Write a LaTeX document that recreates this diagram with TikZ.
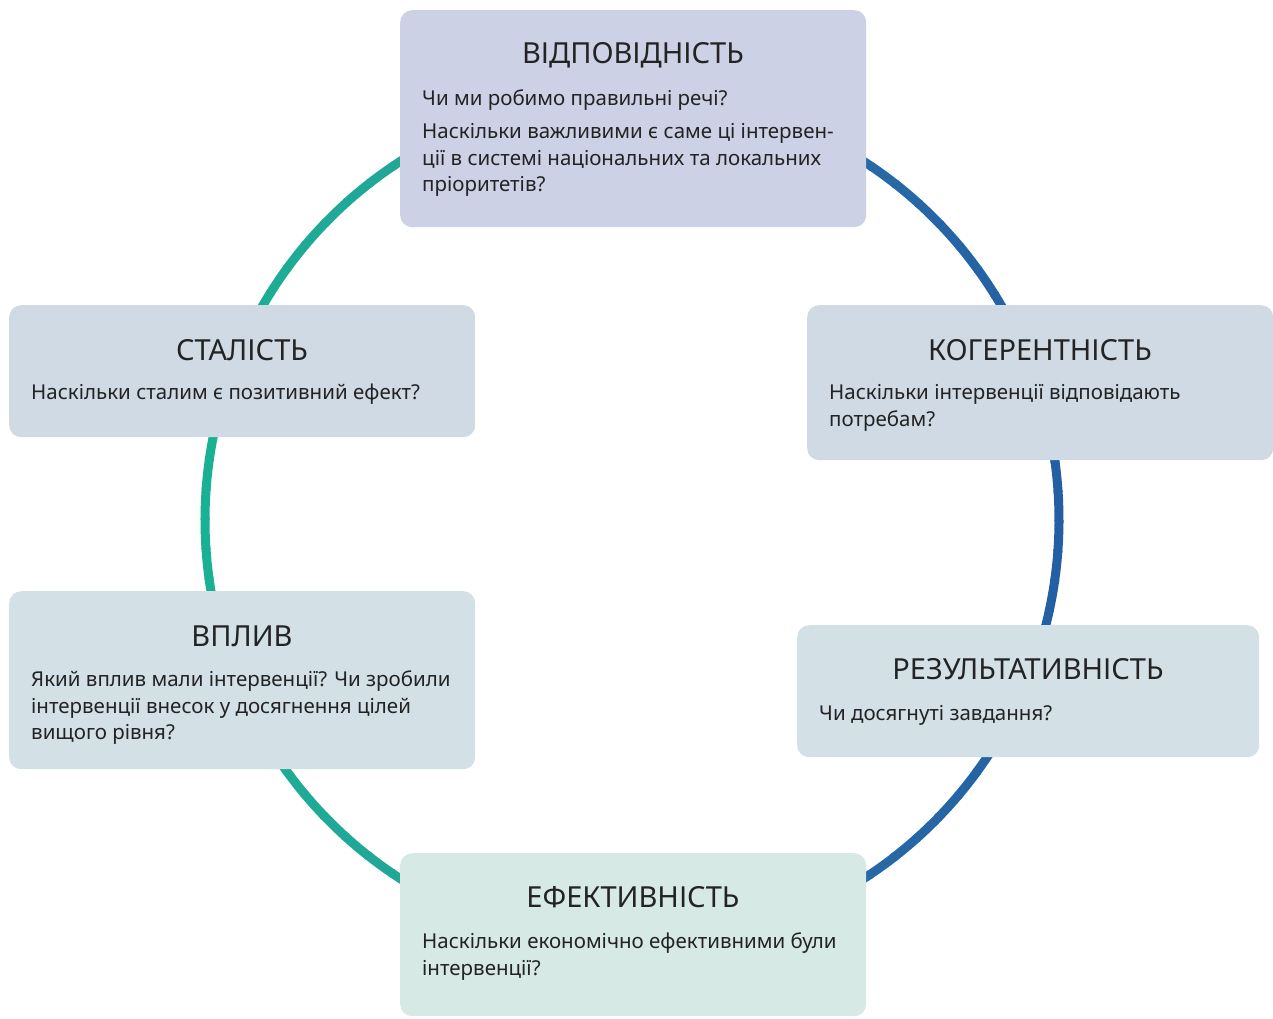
\documentclass[tikz,border=0pt]{standalone}
\usepackage{fontspec}
\setmainfont{Noto Sans}
\usetikzlibrary{calc}
\definecolor{txt}{HTML}{232323}
\definecolor{cTop}{HTML}{CDD1E6}
\definecolor{cMidA}{HTML}{D0DAE5}
\definecolor{cMidB}{HTML}{D3E1E7}
\definecolor{cBot}{HTML}{D6E9E5}
\definecolor{ringG}{HTML}{1AB094}
\definecolor{ringT}{HTML}{2C9A9C}
\definecolor{ringB}{HTML}{245FA3}
\definecolor{ringL}{HTML}{2A75A9}
\newcommand\bodylines[1]{\begin{tabular}[t]{@{}l@{}}#1\end{tabular}}
\begin{document}
\begin{tikzpicture}[x=1pt,y=-1pt,
  panel/.style={rounded corners=12pt, draw=none, anchor=north west, inner sep=0pt},
  ttl/.style={anchor=base, inner sep=0pt, text=txt, font=\fontsize{29}{34}\selectfont},
  bdy/.style={anchor=base west, inner sep=0pt, text=txt, font=\fontsize{20.5}{26.5}\selectfont}]
\useasboundingbox (0,0) rectangle (1273,1018);
\fill[white] (0,0) rectangle (1273,1018);
% ring
\coordinate (ctr) at (632,520);
\foreach \i in {0,...,89}{
  \pgfmathsetmacro\a{\i*4}
  \pgfmathsetmacro\cc{cos(\a+2)}
  \pgfmathsetmacro\p{abs(\cc)*100}
  \ifdim\cc pt<0pt \colorlet{segc}{ringG!\p!ringT}\else\colorlet{segc}{ringB!\p!ringL}\fi
  \draw[segc, line width=9pt] ($(ctr)+(\a:427)$) arc[start angle=\a, end angle=\a+4.3, radius=427];
}
% panels
\node[panel, fill=cTop, minimum width=466pt, minimum height=217pt] (b1) at (400,10) {};
\node[panel, fill=cMidA, minimum width=466pt, minimum height=132pt] (b2) at (9,305) {};
\node[panel, fill=cMidA, minimum width=466pt, minimum height=155pt] (b3) at (807,305) {};
\node[panel, fill=cMidB, minimum width=466pt, minimum height=178pt] (b4) at (9,591) {};
\node[panel, fill=cMidB, minimum width=462pt, minimum height=132pt] (b5) at (797,625) {};
\node[panel, fill=cBot, minimum width=466pt, minimum height=163pt] (b6) at (400,853) {};
% titles
\node[ttl] (t1) at (633,63) {ВІДПОВІДНІСТЬ};
\node[ttl] (t2) at (242,360) {СТАЛІСТЬ};
\node[ttl] (t3) at (1040,360) {КОГЕРЕНТНІСТЬ};
\node[ttl] (t4) at (242,646) {ВПЛИВ};
\node[ttl] (t5) at (1028,679) {РЕЗУЛЬТАТИВНІСТЬ};
\node[ttl] (t6) at (633,907) {ЕФЕКТИВНІСТЬ};
% bodies
\node[bdy] (d1a) at (422,105.5) {Чи ми робимо правильні речі?};
\node[bdy] (d1b) at (422,138.5) {\bodylines{Наскільки важливими є саме ці інтервен-\\ції в системі національних та локальних\\пріоритетів?}};
\node[bdy] (d2) at (31,399.5) {Наскільки сталим є позитивний ефект?};
\node[bdy] (d3) at (829,399.5) {\bodylines{Наскільки інтервенції відповідають\\потребам?}};
\node[bdy] (d4) at (31,686.5) {\bodylines{Який вплив мали інтервенції? Чи зробили\\інтервенції внесок у досягнення цілей\\вищого рівня?}};
\node[bdy] (d5) at (819,720.5) {Чи досягнуті завдання?};
\node[bdy] (d6) at (422,948.5) {\bodylines{Наскільки економічно ефективними були\\інтервенції?}};
\end{tikzpicture}
\end{document}
